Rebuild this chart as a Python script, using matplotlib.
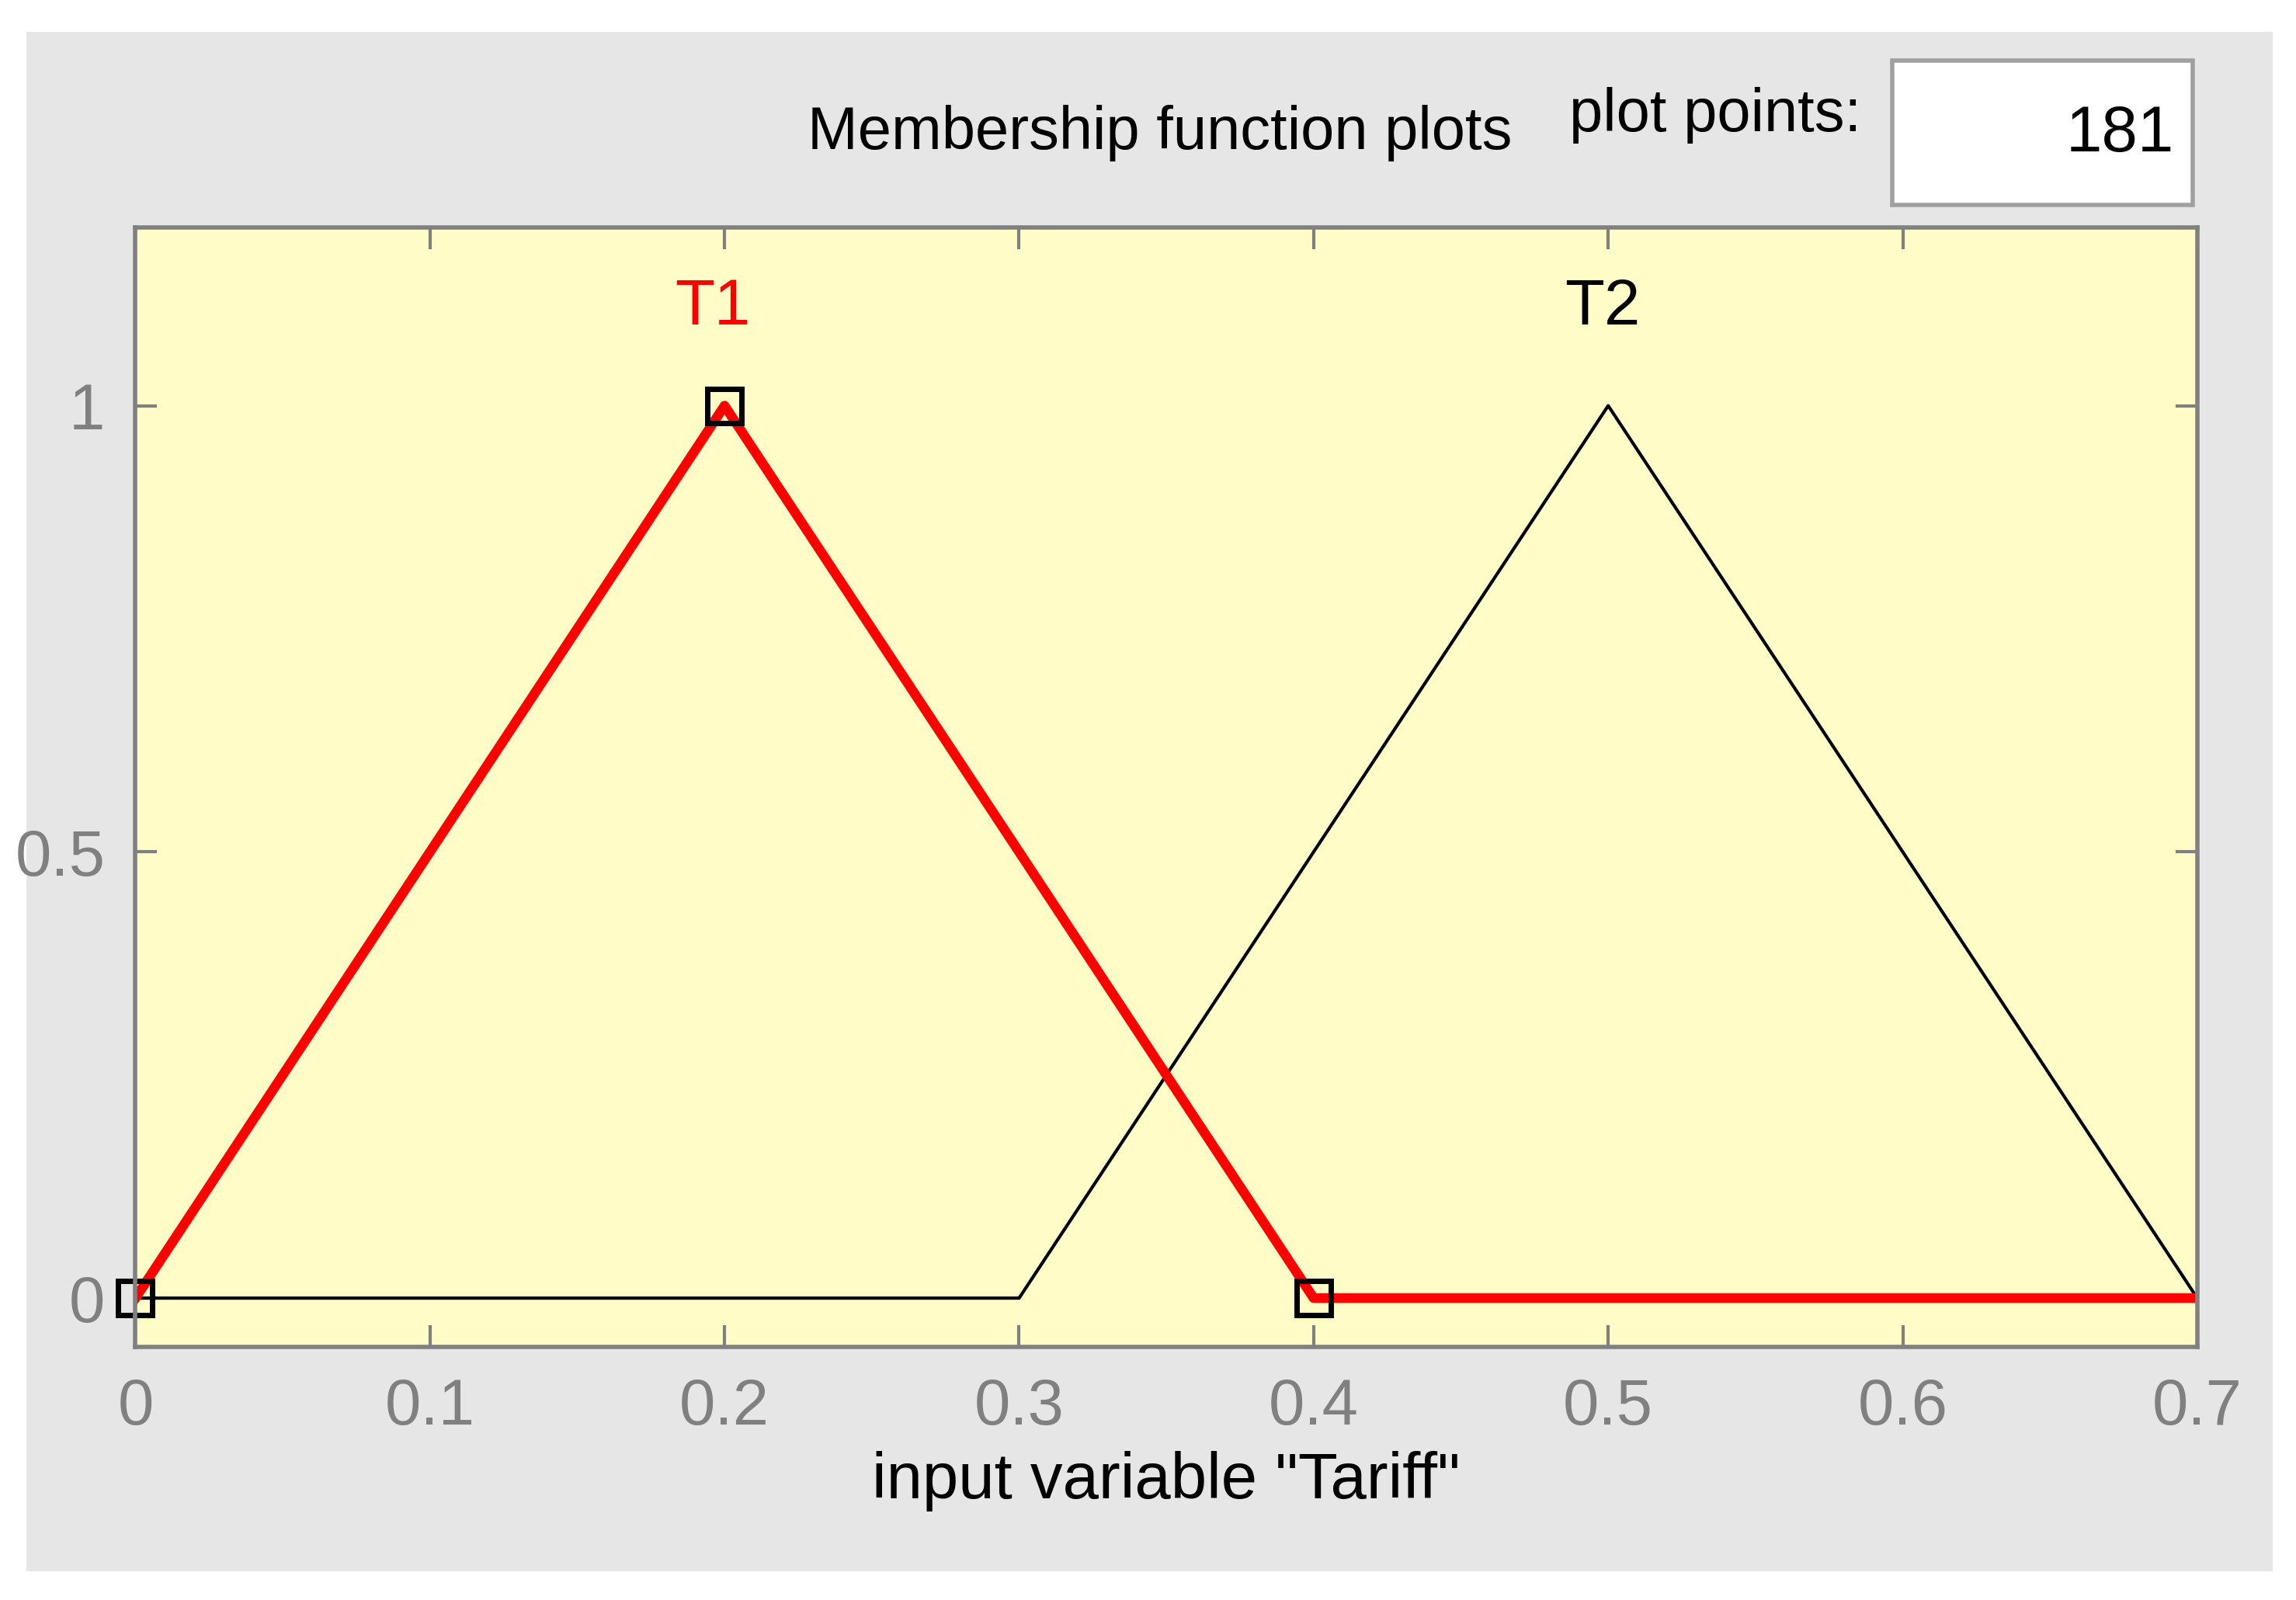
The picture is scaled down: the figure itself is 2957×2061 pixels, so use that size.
import matplotlib.pyplot as plt
from matplotlib.patches import Rectangle

plt.rcParams['font.family'] = ['Liberation Sans Narrow', 'Liberation Sans', 'DejaVu Sans']

# membership function data
t1_x = [0.0, 0.2, 0.4, 0.7]
t1_y = [0.0, 1.0, 0.0, 0.0]
t1_params = [0.0, 0.2, 0.4]
t1_param_y = [0.0, 1.0, 0.0]
t2_x = [0.0, 0.3, 0.5, 0.7]
t2_y = [0.0, 0.0, 1.0, 0.0]
x_ticks = [0, 0.1, 0.2, 0.3, 0.4, 0.5, 0.6, 0.7]
x_labels = ['0', '0.1', '0.2', '0.3', '0.4', '0.5', '0.6', '0.7']
y_ticks = [0, 0.5, 1]
y_labels = ['0', '0.5', '1']

fig = plt.figure(figsize=(14.785, 10.305), dpi=200)
fig.patch.set_facecolor('white')

# gray panel behind everything
bg = fig.add_axes([0, 0, 1, 1], zorder=-1)
bg.set_axis_off()
bg.set_xlim(0, 1)
bg.set_ylim(0, 1)
bg.add_patch(Rectangle((0.0115, 0.018), 0.9785, 0.962, facecolor='#e6e6e6', edgecolor='none'))
bg.add_patch(Rectangle((0.824, 0.872), 0.131, 0.09, facecolor='white',
                       edgecolor='#a0a0a0', linewidth=2))

ax = fig.add_axes([0.059, 0.158, 0.898, 0.7])
ax.set_facecolor('#fffcc8')
ax.plot(t2_x, t2_y, color='black', linewidth=1.5)
ax.plot(t1_x, t1_y, color='red', linewidth=4.5)
ax.plot(t1_params, t1_param_y, linestyle='none', marker='s', markersize=16,
        markerfacecolor='none', markeredgecolor='black', markeredgewidth=2.5, clip_on=False)
ax.set_xlim(0, 0.7)
ax.set_ylim(-0.055, 1.2)
ax.set_xticks(x_ticks)
ax.set_xticklabels(x_labels)
ax.set_yticks(y_ticks)
ax.set_yticklabels(y_labels)
ax.tick_params(direction='in', top=True, right=True, length=10, width=1.5,
               colors='#808080', labelsize=30, pad=14)
for s in ax.spines.values():
    s.set_color('#808080')
    s.set_linewidth(2)

ax.text(0.196, 1.11, 'T1', color='red', fontsize=30, ha='center', va='center')
ax.text(0.498, 1.11, 'T2', color='black', fontsize=30, ha='center', va='center')
ax.set_xlabel('input variable "Tariff"', fontsize=30, labelpad=6)

fig.text(0.505, 0.917, 'Membership function plots', fontsize=28, ha='center', va='center')
fig.text(0.747, 0.928, 'plot points:', fontsize=28, ha='center', va='center')
fig.text(0.947, 0.916, '181', fontsize=30, ha='right', va='center')

fig.savefig('out.png', dpi=200)
